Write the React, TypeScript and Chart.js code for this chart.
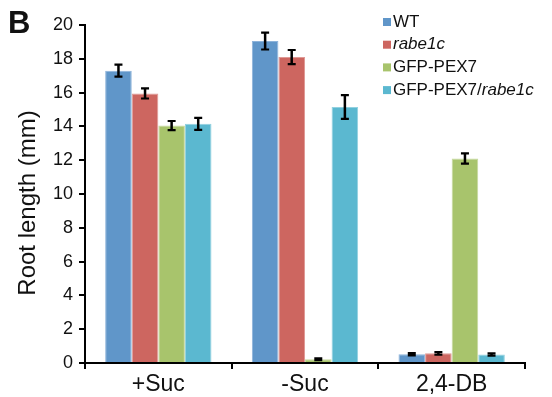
import React, { useEffect, useRef } from "react";
import { Chart, registerables } from "chart.js";

Chart.register(...registerables);

const categories = ["+Suc", "-Suc", "2,4-DB"];
const seriesLabels = ["WT", "rabe1c", "GFP-PEX7", "GFP-PEX7/rabe1c"];
const wtValues = [17.3, 19.05, 0.52];
const rabeValues = [15.95, 18.1, 0.57];
const pexValues = [14.05, 0.22, 12.1];
const pexRabeValues = [14.15, 15.15, 0.5];
const wtErrors = [0.35, 0.5, 0.07];
const rabeErrors = [0.3, 0.42, 0.08];
const pexErrors = [0.27, 0.05, 0.3];
const pexRabeErrors = [0.35, 0.7, 0.07];
const yTicks = [0, 2, 4, 6, 8, 10, 12, 14, 16, 18, 20];
const colors = ["#6096C9", "#CD6660", "#A8C46C", "#5BB8D0"];
const borderColors = ["#8DB3DA", "#E09A96", "#C6D99E", "#92D1E0"];
const yTitle = "Root length (mm)";

const FONT = "'Liberation Sans', Arial, sans-serif";

const errorBarPlugin = {
  id: "errorBars",
  afterDatasetsDraw(chart: any) {
    const ctx = chart.ctx;
    const y = chart.scales.y;
    chart.data.datasets.forEach((ds: any, di: number) => {
      const meta = chart.getDatasetMeta(di);
      meta.data.forEach((bar: any, i: number) => {
        const v = ds.data[i];
        const e = ds.errors[i];
        const yt = y.getPixelForValue(v + e);
        const yb = y.getPixelForValue(v - e);
        ctx.save();
        ctx.strokeStyle = "#000";
        ctx.lineWidth = 2.5;
        ctx.beginPath();
        ctx.moveTo(bar.x, yt);
        ctx.lineTo(bar.x, yb);
        ctx.stroke();
        ctx.lineWidth = 2.2;
        ctx.beginPath();
        ctx.moveTo(bar.x - 4, yt);
        ctx.lineTo(bar.x + 4, yt);
        ctx.moveTo(bar.x - 4, yb);
        ctx.lineTo(bar.x + 4, yb);
        ctx.stroke();
        ctx.restore();
      });
    });
  },
};

const legendPlugin = {
  id: "customLegend",
  afterDraw(chart: any) {
    const ctx = chart.ctx;
    ctx.save();
    const x0 = 383;
    const y0 = 22;
    const step = 22.7;
    ctx.textBaseline = "middle";
    chart.data.datasets.forEach((ds: any, i: number) => {
      const cy = y0 + i * step;
      ctx.fillStyle = ds.backgroundColor;
      ctx.fillRect(x0, cy - 4, 8, 8);
      ctx.fillStyle = "#111";
      let x = x0 + 10;
      const label: string = ds.label;
      const parts: [string, boolean][] = [];
      const idx = label.indexOf("rabe1c");
      if (idx >= 0) {
        if (idx > 0) parts.push([label.slice(0, idx), false]);
        parts.push(["rabe1c", true]);
      } else {
        parts.push([label, false]);
      }
      parts.forEach(([t, it]) => {
        ctx.font = `${it ? "italic " : ""}17px ${FONT}`;
        ctx.textAlign = "left";
        ctx.fillText(t, x, cy);
        x += ctx.measureText(t).width;
      });
    });
    ctx.font = `bold 31px ${FONT}`;
    ctx.fillStyle = "#111";
    ctx.textBaseline = "alphabetic";
    ctx.textAlign = "left";
    ctx.fillText("B", 8, 33);
    // y axis title
    ctx.translate(28, 203);
    ctx.rotate(-Math.PI / 2);
    ctx.font = `24px ${FONT}`;
    ctx.textAlign = "center";
    ctx.textBaseline = "middle";
    ctx.fillText(yTitle, 0, 0);
    ctx.restore();
  },
};

export default function App() {
  const ref = useRef<HTMLCanvasElement | null>(null);
  useEffect(() => {
    document.body.style.margin = "0";
    const values = [wtValues, rabeValues, pexValues, pexRabeValues];
    const errors = [wtErrors, rabeErrors, pexErrors, pexRabeErrors];
    const chart = new Chart(ref.current as HTMLCanvasElement, {
      type: "bar",
      data: {
        labels: categories,
        datasets: seriesLabels.map((l, i) => ({
          label: l,
          data: values[i],
          errors: errors[i],
          backgroundColor: colors[i],
          borderColor: borderColors[i],
          borderWidth: 1,
          categoryPercentage: 0.725,
          barPercentage: 1,
        })) as any,
      },
      options: {
        animation: false,
        responsive: false,
        layout: { padding: { left: 0, top: 25, right: 27, bottom: 0 } },
        plugins: {
          legend: { display: false },
          tooltip: { enabled: false },
        },
        scales: {
          x: {
            grid: {
              display: true,
              drawOnChartArea: false,
              drawTicks: true,
              tickLength: 6,
              color: "#000",
              lineWidth: 2,
              offset: true,
            },
            border: { display: true, color: "#000", width: 2 },
            ticks: {
              color: "#111",
              font: { family: FONT, size: 23 },
              padding: 2,
            },
            afterFit: (s: any) => {
              s.height = 34;
            },
          },
          y: {
            min: 0,
            max: 20,
            afterBuildTicks: (s: any) => {
              s.ticks = yTicks.map((v) => ({ value: v }));
            },
            grid: {
              display: true,
              drawOnChartArea: false,
              drawTicks: true,
              tickLength: 6,
              color: "#000",
              lineWidth: 2,
            },
            border: { display: true, color: "#000", width: 2 },
            ticks: {
              color: "#111",
              font: { family: FONT, size: 18 },
              padding: 6,
            },
            afterFit: (s: any) => {
              s.width = 85;
            },
          },
        },
      },
      plugins: [errorBarPlugin, legendPlugin],
    });
    return () => chart.destroy();
  }, []);
  return (
    <div style={{ width: 552, height: 397 }}>
      <canvas ref={ref} width={552} height={397} style={{ display: "block" }} />
    </div>
  );
}
